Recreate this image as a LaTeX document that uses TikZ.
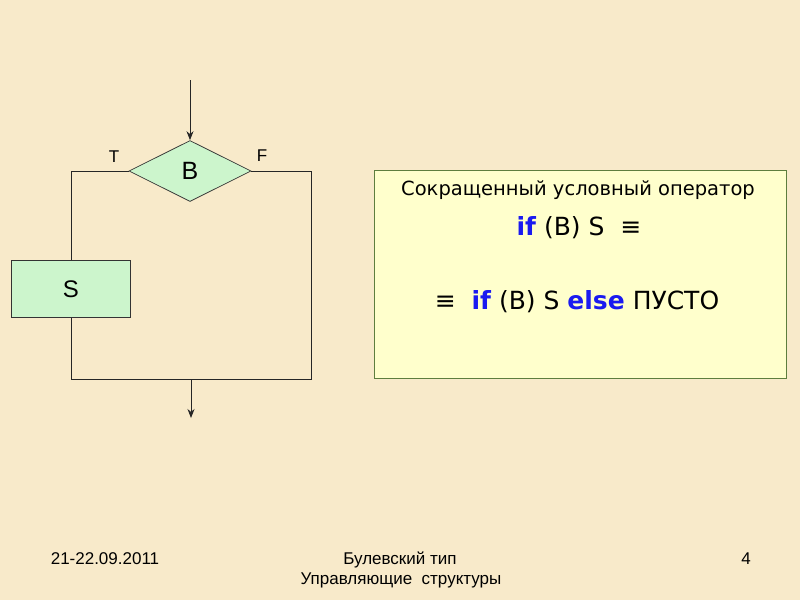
\documentclass[tikz,border=0pt]{standalone}
\usepackage{fontspec}
\setmainfont{Liberation Sans}
\newfontfamily\boxfont{DejaVu Sans}
\usetikzlibrary{shapes.geometric,arrows.meta}
\definecolor{parch}{HTML}{F8EACA}
\definecolor{lgreen}{HTML}{CCF5CC}
\definecolor{lyellow}{HTML}{FFFFCC}
\definecolor{boxedge}{HTML}{5E7E3E}
\definecolor{kw}{HTML}{1A1AF0}
\tikzset{
  flow/.style={draw=black!85, line width=0.9pt},
  arr/.style={flow, -{Stealth[length=9pt,width=7pt]}},
  decision/.style={diamond, draw=black!80, fill=lgreen, line width=0.7pt, inner sep=0pt,
    minimum width=122pt, minimum height=61pt, font=\fontsize{25}{28}\selectfont},
  process/.style={rectangle, draw=black!80, fill=lgreen, line width=0.7pt, inner sep=0pt,
    minimum width=119pt, minimum height=57pt, font=\fontsize{24}{28}\selectfont},
  lbl/.style={font=\fontsize{17}{20}\selectfont, inner sep=0pt},
  note/.style={rectangle, draw=boxedge, fill=lyellow, line width=0.9pt,
    minimum width=412pt, minimum height=208pt, inner sep=0pt},
  notetext/.style={font=\boxfont\fontsize{19.5}{23}\selectfont, inner sep=0pt, anchor=base},
  notebig/.style={font=\boxfont\fontsize{25}{29}\selectfont, inner sep=0pt, anchor=base},
  foot/.style={font=\fontsize{17}{20}\selectfont, inner sep=0pt, anchor=base}
}
\begin{document}
\begin{tikzpicture}[x=1pt,y=-1pt]
\fill[parch] (0,0) rectangle (800,600);
\useasboundingbox (0,0) rectangle (800,600);

% flowchart
\node[decision] (B) at (190,171) {B};
\node[process] (S) at (71,289) {S};
\coordinate (in) at (190,80);
\coordinate (rb) at (311,379);
\coordinate (j) at (191,379);
\coordinate (out) at (191,418);
\draw[arr] (in) -- (B.north);
\draw[flow] (B.west) -- (B.west -| S.north) -- (S.north);
\draw[flow] (S.south) |- (rb) |- (B.east);
\draw[arr] (j) -- (out);
\node[lbl] (T) at (114,157) {T};
\node[lbl] (F) at (262,156) {F};

% note box
\node[note] (N) at (580,274) {};
\node[notetext] (l1) at (578,195) {Сокращенный условный оператор};
\node[notebig] (l2) at (579,235) {\textcolor{kw}{\bfseries if} (B) S \ ≡};
\node[notebig] (l3) at (577,309) {≡ \ \textcolor{kw}{\bfseries if} (B) S \textcolor{kw}{\bfseries else} ПУСТО};

% footer
\node[foot] (d) at (105,564) {21-22.09.2011};
\node[foot] (t1) at (400,564) {Булевский тип};
\node[foot] (t2) at (401,584) {Управляющие \ структуры};
\node[foot] (p) at (746,564) {4};
\end{tikzpicture}
\end{document}
